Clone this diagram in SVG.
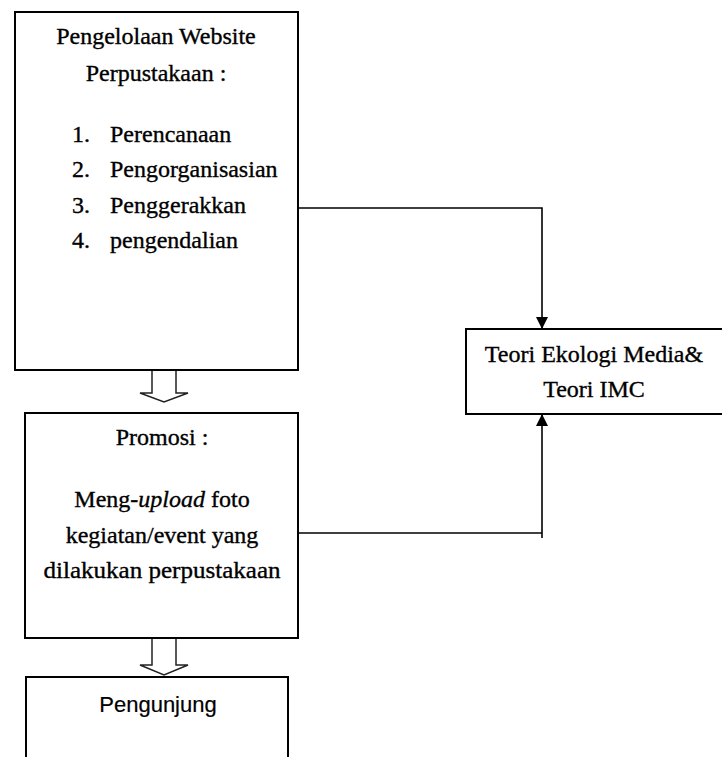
<svg xmlns="http://www.w3.org/2000/svg" width="722" height="757" viewBox="0 0 722 757">
<style>
.box{fill:#fff;stroke:#000;stroke-width:2}
.t{font-family:"Liberation Serif","Times New Roman",serif;font-size:24px;fill:#000;stroke:#000;stroke-width:0.35}
.c{text-anchor:middle}
.s{font-family:"Liberation Sans",Arial,sans-serif;font-size:22px;fill:#000;stroke:#000;stroke-width:0.2}
.ln{fill:none;stroke:#000;stroke-width:1.6}
.blk{fill:#fff;stroke:#222;stroke-width:1.5;stroke-linejoin:miter}
</style>
<defs>
<marker id="ah" viewBox="0 0 12 12" refX="12" refY="6" markerWidth="12" markerHeight="12" markerUnits="userSpaceOnUse" orient="auto">
<path d="M0,0 L12,6 L0,12 Z" fill="#000"/>
</marker>
</defs>
<rect width="722" height="757" fill="#fff"/>
<g id="connectors">
<polyline class="ln" points="298,208 542,208 542,329" marker-end="url(#ah)"/>
<polyline class="ln" points="298,533 542,533"/>
<line class="ln" x1="542" y1="538" x2="542" y2="414" marker-end="url(#ah)"/>
<polygon class="blk" points="152,369 176,369 176,393 188,393 164,402 140,393 152,393"/>
<polygon class="blk" points="152,638 176,638 176,665 188,665 164,675 140,665 152,665"/>
</g>
<g id="pengelolaan">
<rect class="box" x="15" y="12" width="283" height="358"/>
<text class="t c" x="156" y="44">Pengelolaan Website</text>
<text class="t c" x="156" y="81">Perpustakaan :</text>
<text class="t" x="72" y="142">1.</text>
<text class="t" x="110" y="142">Perencanaan</text>
<text class="t" x="72" y="177">2.</text>
<text class="t" x="110" y="177">Pengorganisasian</text>
<text class="t" x="72" y="213">3.</text>
<text class="t" x="110" y="213">Penggerakkan</text>
<text class="t" x="72" y="248">4.</text>
<text class="t" x="110" y="248">pengendalian</text>
</g>
<g id="promosi">
<rect class="box" x="25" y="413" width="273" height="225"/>
<text class="t c" x="162" y="445">Promosi :</text>
<text class="t c" x="162" y="507">Meng-<tspan font-style="italic">upload</tspan> foto</text>
<text class="t c" x="162" y="543">kegiatan/event yang</text>
<text class="t c" x="162" y="578" textLength="237" lengthAdjust="spacingAndGlyphs">dilakukan perpustakaan</text>
</g>
<g id="pengunjung">
<rect class="box" x="26" y="677" width="262" height="100"/>
<text class="s c" x="158" y="712">Pengunjung</text>
</g>
<g id="teori">
<rect class="box" x="466" y="329" width="270" height="85"/>
<text class="t c" x="594" y="362">Teori Ekologi Media&amp;</text>
<text class="t c" x="594" y="397">Teori IMC</text>
</g>
</svg>
